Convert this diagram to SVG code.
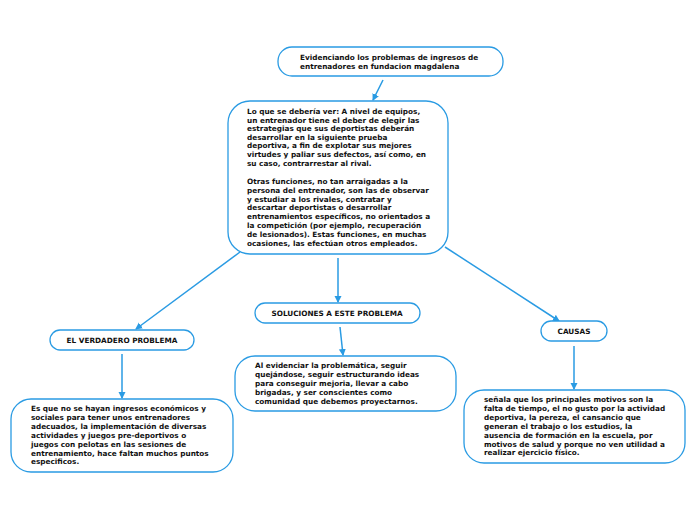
<svg xmlns="http://www.w3.org/2000/svg" width="696" height="520" viewBox="0 0 696 520">
<defs>
<style>
.box{fill:#fff;stroke:#2a9be3;stroke-width:1.3}
.t{font-family:"DejaVu Sans","Liberation Sans",sans-serif;font-weight:bold;font-size:7.3px;fill:#111}
.c{text-anchor:middle}
.ln{stroke:#2a9be3;stroke-width:1.5;fill:none;marker-end:url(#ah)}
</style>
<marker id="ah" markerWidth="8" markerHeight="8" refX="6" refY="4" orient="auto" markerUnits="userSpaceOnUse">
<path d="M0,0.5 L7,4 L0,7.5 z" fill="#2a9be3"/>
</marker>
</defs>
<rect width="696" height="520" fill="#fff"/>
<g id="connectors">
<line class="ln" x1="383" y1="80" x2="373" y2="100"/>
<line class="ln" x1="240" y1="252" x2="136" y2="329"/>
<line class="ln" x1="338" y1="258" x2="338" y2="302"/>
<line class="ln" x1="445" y1="247" x2="559" y2="321"/>
<line class="ln" x1="122" y1="354" x2="122" y2="398"/>
<line class="ln" x1="340" y1="327" x2="343" y2="355"/>
<line class="ln" x1="574" y1="346" x2="574" y2="389"/>
</g>
<g id="top">
<rect class="box" x="278" y="47" width="225" height="29" rx="14"/>
<text class="t" x="300" y="60">Evidenciando los problemas de ingresos de</text>
<text class="t" x="300" y="69">entrenadores en fundacion magdalena</text>
</g>
<g id="main">
<rect class="box" x="228" y="101" width="220" height="153" rx="22"/>
<text class="t">
<tspan x="247" y="114">Lo que se debería ver: A nivel de equipos,</tspan>
<tspan x="247" y="122.6">un entrenador tiene el deber de elegir las</tspan>
<tspan x="247" y="131.2">estrategias que sus deportistas deberán</tspan>
<tspan x="247" y="139.8">desarrollar en la siguiente prueba</tspan>
<tspan x="247" y="148.4">deportiva, a fin de explotar sus mejores</tspan>
<tspan x="247" y="157">virtudes y paliar sus defectos, así como, en</tspan>
<tspan x="247" y="165.6">su caso, contrarrestar al rival.</tspan>
<tspan x="247" y="184">Otras funciones, no tan arraigadas a la</tspan>
<tspan x="247" y="192.8">persona del entrenador, son las de observar</tspan>
<tspan x="247" y="201.6">y estudiar a los rivales, contratar y</tspan>
<tspan x="247" y="210.4">descartar deportistas o desarrollar</tspan>
<tspan x="247" y="219.2">entrenamientos específicos, no orientados a</tspan>
<tspan x="247" y="228">la competición (por ejemplo, recuperación</tspan>
<tspan x="247" y="236.8">de lesionados). Estas funciones, en muchas</tspan>
<tspan x="247" y="245.6">ocasiones, las efectúan otros empleados.</tspan>
</text>
</g>
<g id="verdadero">
<rect class="box" x="50" y="330" width="144" height="20" rx="10"/>
<text class="t c" x="122" y="343">EL VERDADERO PROBLEMA</text>
</g>
<g id="verdadero-detail">
<rect class="box" x="11" y="399" width="222" height="73" rx="20"/>
<text class="t">
<tspan x="31" y="411">Es que no se hayan ingresos económicos y</tspan>
<tspan x="31" y="419.9">sociales para tener unos entrenadores</tspan>
<tspan x="31" y="428.8">adecuados, la implementación de diversas</tspan>
<tspan x="31" y="437.7">actividades y juegos pre-deportivos o</tspan>
<tspan x="31" y="446.6">juegos con pelotas en las sesiones de</tspan>
<tspan x="31" y="455.5">entrenamiento, hace faltan muchos puntos</tspan>
<tspan x="31" y="464.4">especificos.</tspan>
</text>
</g>
<g id="soluciones">
<rect class="box" x="255" y="303" width="165" height="20" rx="10"/>
<text class="t c" x="337" y="316">SOLUCIONES A ESTE PROBLEMA</text>
</g>
<g id="soluciones-detail">
<rect class="box" x="235" y="356" width="221" height="55" rx="20"/>
<text class="t">
<tspan x="255" y="368">Al evidenciar la problemática, seguir</tspan>
<tspan x="255" y="377">quejándose, seguir estructurando ideas</tspan>
<tspan x="255" y="386">para conseguir mejoria, llevar a cabo</tspan>
<tspan x="255" y="395">brigadas, y ser conscientes como</tspan>
<tspan x="255" y="404">comunidad que debemos proyectarnos.</tspan>
</text>
</g>
<g id="causas">
<rect class="box" x="541" y="321" width="66" height="20" rx="10"/>
<text class="t c" x="574" y="334">CAUSAS</text>
</g>
<g id="causas-detail">
<rect class="box" x="464" y="390" width="221" height="73" rx="20"/>
<text class="t">
<tspan x="484" y="402">señala que los principales motivos son la</tspan>
<tspan x="484" y="410.9">falta de tiempo, el no gusto por la actividad</tspan>
<tspan x="484" y="419.8">deportiva, la pereza, el cansancio que</tspan>
<tspan x="484" y="428.7">generan el trabajo o los estudios, la</tspan>
<tspan x="484" y="437.6">ausencia de formación en la escuela, por</tspan>
<tspan x="484" y="446.5">motivos de salud y porque no ven utilidad a</tspan>
<tspan x="484" y="455.4">realizar ejercicio físico.</tspan>
</text>
</g>
</svg>
